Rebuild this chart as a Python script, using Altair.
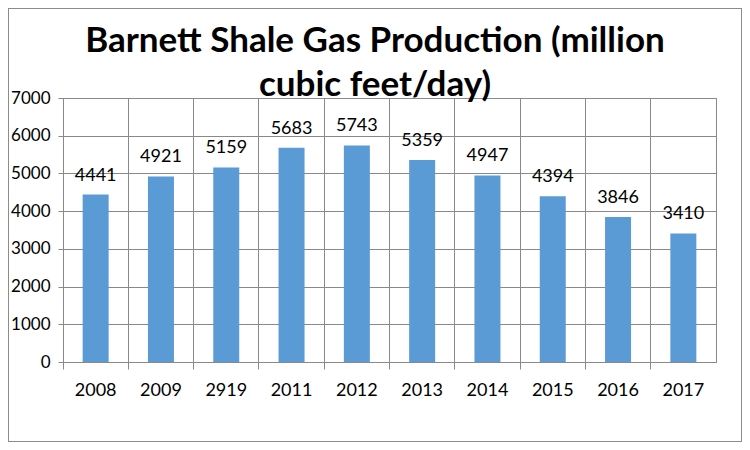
import altair as alt
import pandas as pd

years = ["2008", "2009", "2919", "2011", "2012", "2013", "2014", "2015", "2016", "2017"]
production = [4441, 4921, 5159, 5683, 5743, 5359, 4947, 4394, 3846, 3410]
y_ticks = [0, 1000, 2000, 3000, 4000, 5000, 6000, 7000]
title_lines = ["Barnett Shale Gas Production (million", "cubic feet/day)"]

df = pd.DataFrame({"year": years, "value": production})

W, H = 653, 264
PL, PT, PR, PB = 55, 90, 26, 80
FONT = "Lato"
GRID = "#898989"

x_enc = alt.X(
    "year:N", sort=years, title=None,
    scale=alt.Scale(paddingInner=0, paddingOuter=0),
    axis=alt.Axis(
        bandPosition=0, labelAngle=0, grid=True,
        gridColor=GRID, tickColor=GRID, domainColor=GRID, tickSize=7,
        labelFontSize=18, labelFont=FONT, labelColor="black", labelPadding=12,
    ),
)
y_enc = alt.Y(
    "value:Q", title=None,
    scale=alt.Scale(domain=[0, 7000], nice=False),
    axis=alt.Axis(
        values=y_ticks, grid=True, format="d", labelOverlap=False,
        gridColor=GRID, tickColor=GRID, domain=False, tickSize=5,
        labelFontSize=17, labelFont=FONT, labelColor="black", labelPadding=8,
    ),
)

base = alt.Chart(df).encode(x=x_enc, y=y_enc)
bars = base.mark_bar(color="#5B9BD5", size=26)
labels = base.mark_text(
    baseline="bottom", dy=-10, fontSize=18, font=FONT, color="black"
).encode(text="value:Q")

title = alt.Chart(pd.DataFrame({"t": [0]})).mark_text(
    fontSize=35, font=FONT, fontWeight="bold", color="black",
    baseline="alphabetic", align="center", lineHeight=44,
).encode(x=alt.value(312), y=alt.value(-46), text=alt.value(title_lines))

border = alt.Chart(df).mark_rect(fill=None, stroke="#8c8c8c", strokeWidth=1).encode(
    x=alt.value(-PL + 0.5), x2=alt.value(W + PR - 0.5),
    y=alt.value(-PT + 0.5), y2=alt.value(H + PB - 0.5),
)

chart = alt.layer(bars, labels, title, border).properties(
    width=W, height=H,
    autosize=alt.AutoSizeParams(type="none"),
    padding={"left": PL, "top": PT, "right": PR, "bottom": PB},
).configure_view(stroke=GRID)

chart.save("out.html", embed_options={"renderer": "svg", "actions": False})
